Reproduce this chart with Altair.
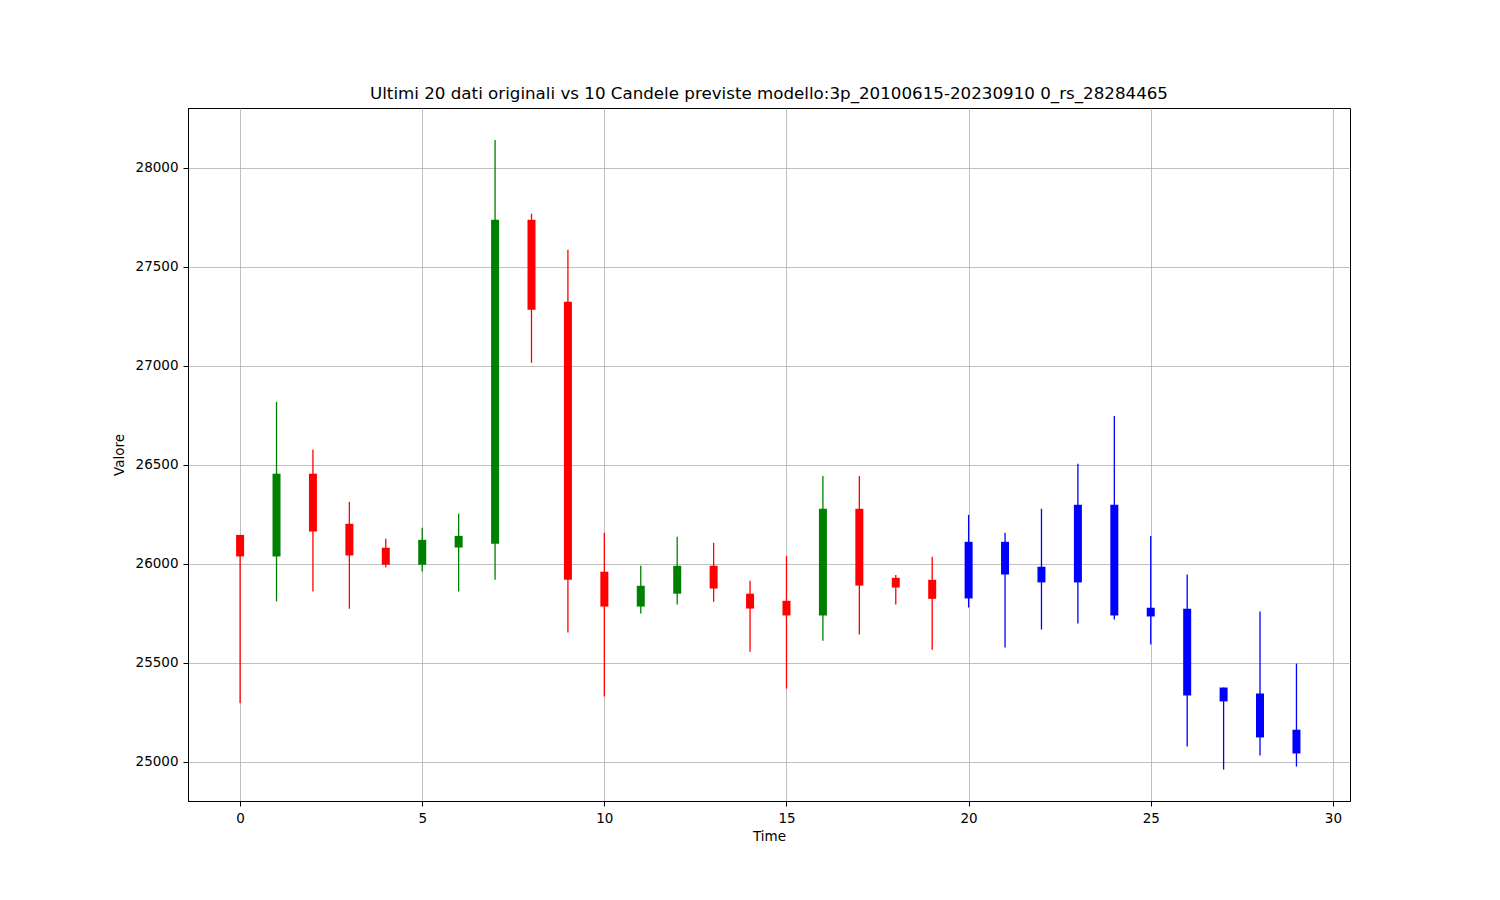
import altair as alt
import pandas as pd

# index of each candle (0..19 original, 20..29 forecast)
t = list(range(30))
open_ = [26147, 26038, 26456, 26203, 26082, 25996, 26083, 26102, 27738, 27324,
         25961, 25785, 25850, 25991, 25850, 25814, 25740, 26279, 25930, 25920,
         25826, 26112, 25907, 25907, 26299, 25779, 25774, 25376, 25346, 25163]
close = [26038, 26456, 26164, 26043, 25996, 26122, 26142, 27738, 27284, 25920,
         25785, 25890, 25991, 25876, 25775, 25740, 26279, 25891, 25881, 25824,
         26112, 25947, 25986, 26299, 25740, 25735, 25336, 25306, 25124, 25043]
high = [26147, 26819, 26577, 26314, 26127, 26183, 26254, 28142, 27769, 27587,
        26158, 25991, 26137, 26107, 25915, 26041, 26445, 26445, 25945, 26036,
        26248, 26158, 26279, 26506, 26748, 26142, 25947, 25376, 25760, 25497]
low = [25297, 25811, 25861, 25774, 25982, 25962, 25861, 25920, 27016, 25654,
       25331, 25750, 25796, 25809, 25557, 25371, 25612, 25644, 25796, 25567,
       25780, 25578, 25669, 25700, 25720, 25593, 25078, 24962, 25033, 24977]
n_original = 20

x_ticks = [0, 5, 10, 15, 20, 25, 30]
y_ticks = [25000, 25500, 26000, 26500, 27000, 27500, 28000]

kind = []
for i in t:
    if i >= n_original:
        kind.append("prevista")
    elif close[i] >= open_[i]:
        kind.append("rialzo")
    else:
        kind.append("ribasso")

df = pd.DataFrame({"t": t, "open": open_, "close": close, "high": high,
                   "low": low, "kind": kind})

color = alt.Color("kind:N",
                  scale=alt.Scale(domain=["rialzo", "ribasso", "prevista"],
                                  range=["#008000", "#ff0000", "#0000ff"]),
                  legend=None)

xenc = alt.X("t:Q",
             scale=alt.Scale(domain=[-1.43, 30.47], nice=False, zero=False,
                             padding=0),
             axis=alt.Axis(values=x_ticks, format="d", title="Time",
                           titlePadding=5))
yenc = alt.Y("low:Q",
             scale=alt.Scale(domain=[24803, 28303], nice=False, zero=False,
                             padding=0),
             axis=alt.Axis(values=y_ticks, format="d", title="Valore",
                           titlePadding=9))

base = alt.Chart(df)

wicks = base.mark_rule(strokeWidth=1.3).encode(
    x=xenc, y=yenc, y2="high:Q", color=color
)
bodies = base.mark_bar(size=8).encode(
    x="t:Q", y="open:Q", y2="close:Q", color=color
)

chart = alt.layer(wicks, bodies).properties(
    width=1162, height=693,
    title=alt.TitleParams(
        "Ultimi 20 dati originali vs 10 Candele previste modello:3p_20100615-20230910 0_rs_28284465",
        font="DejaVu Sans", fontSize=16.7, fontWeight="normal", color="black",
        anchor="middle", offset=5),
    padding={"left": 180, "top": 100, "right": 142, "bottom": 91},
    autosize=alt.AutoSizeParams(type="none"),
    background="white",
).configure_view(
    stroke="black", strokeWidth=1
).configure_axis(
    labelFont="DejaVu Sans", labelFontSize=13.5, labelColor="black",
    titleFont="DejaVu Sans", titleFontSize=13.5, titleFontWeight="normal",
    titleColor="black", tickColor="black", tickSize=5, labelPadding=5,
    domainColor="black", domainWidth=1, gridColor="#b0b0b0", gridWidth=0.8,
    grid=True
)

chart.save("out.html", embed_options={"renderer": "svg", "actions": False})
